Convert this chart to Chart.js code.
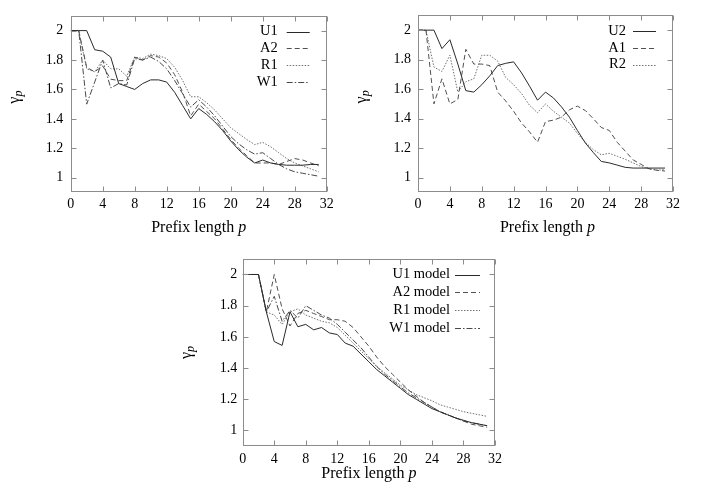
<!DOCTYPE html>
<html>
<head>
<meta charset="utf-8">
<script src="https://cdn.jsdelivr.net/npm/chart.js@4.4.1/dist/chart.umd.min.js"></script>
<style>
  html, body { margin: 0; padding: 0; background: #fff; }
  body { width: 702px; height: 491px; position: relative; overflow: hidden; }
  .box { position: absolute; }
</style>
</head>
<body>
<div class="box" id="b1" style="left:0px;top:0px;width:345px;height:245px"><canvas id="c1"></canvas></div>
<div class="box" id="b2" style="left:345px;top:0px;width:357px;height:245px"><canvas id="c2"></canvas></div>
<div class="box" id="b3" style="left:160px;top:245px;width:380px;height:246px"><canvas id="c3"></canvas></div>
<script>
// ---------------- data ----------------
const prefixLengths = [0,1,2,3,4,5,6,7,8,9,10,11,12,13,14,15,16,17,18,19,20,21,22,23,24,25,26,27,28,29,30,31];
const xTicks = [0,4,8,12,16,20,24,28,32];
const yTicks = [1,1.2,1.4,1.6,1.8,2];

// panel 1
const panel1Labels = ['U1','A2','R1','W1'];
const u1 = [2,2,2,1.87,1.86,1.82,1.64,1.62,1.60,1.64,1.665,1.665,1.65,1.58,1.49,1.40,1.47,1.43,1.38,1.32,1.25,1.19,1.14,1.10,1.12,1.10,1.09,1.085,1.085,1.085,1.09,1.09];
const a2 = [2,2,1.75,1.72,1.76,1.67,1.66,1.66,1.82,1.80,1.83,1.82,1.78,1.70,1.58,1.42,1.50,1.45,1.40,1.33,1.26,1.20,1.15,1.10,1.10,1.10,1.09,1.11,1.13,1.12,1.10,1.08];
const r1 = [2,2,1.74,1.72,1.80,1.74,1.74,1.69,1.82,1.81,1.84,1.83,1.81,1.75,1.66,1.55,1.55,1.51,1.46,1.40,1.34,1.30,1.26,1.225,1.24,1.21,1.17,1.13,1.10,1.08,1.06,1.04];
const w1 = [2,2,1.50,1.65,1.80,1.61,1.64,1.63,1.81,1.80,1.82,1.79,1.74,1.66,1.57,1.48,1.53,1.48,1.42,1.35,1.28,1.23,1.19,1.16,1.17,1.13,1.09,1.06,1.04,1.03,1.02,1.01];

// panel 2
const panel2Labels = ['U2','A1','R2'];
const u2 = [2,2,2,1.875,1.935,1.77,1.59,1.58,1.63,1.69,1.76,1.775,1.785,1.71,1.62,1.525,1.58,1.54,1.48,1.41,1.32,1.235,1.17,1.11,1.10,1.085,1.07,1.065,1.065,1.065,1.065,1.065];
const a1 = [2,2,1.50,1.67,1.50,1.53,1.87,1.77,1.77,1.76,1.58,1.52,1.45,1.37,1.31,1.24,1.38,1.39,1.41,1.46,1.485,1.455,1.40,1.34,1.32,1.24,1.18,1.12,1.09,1.06,1.05,1.045];
const r2 = [2,2,1.75,1.72,1.83,1.58,1.65,1.67,1.83,1.83,1.79,1.68,1.63,1.57,1.49,1.44,1.50,1.45,1.41,1.37,1.30,1.24,1.19,1.155,1.165,1.145,1.125,1.10,1.075,1.06,1.05,1.055];

// panel 3
const panel3Labels = ['U1 model','A2 model','R1 model','W1 model'];
const u1Model = [2,2,2,1.76,1.57,1.545,1.76,1.665,1.68,1.645,1.66,1.625,1.615,1.56,1.54,1.49,1.44,1.39,1.35,1.31,1.27,1.23,1.20,1.17,1.14,1.12,1.10,1.08,1.065,1.05,1.04,1.03];
const a2Model = [2,2,2,1.76,2.0,1.78,1.67,1.75,1.77,1.75,1.73,1.71,1.71,1.70,1.66,1.60,1.54,1.47,1.41,1.36,1.31,1.26,1.22,1.18,1.15,1.12,1.10,1.08,1.06,1.04,1.03,1.02];
const r1Model = [2,2,2,1.76,1.74,1.68,1.76,1.78,1.74,1.72,1.70,1.69,1.66,1.61,1.56,1.51,1.46,1.41,1.37,1.33,1.29,1.26,1.23,1.21,1.19,1.165,1.15,1.135,1.12,1.11,1.10,1.09];
const w1Model = [2,2,2,1.76,1.86,1.70,1.77,1.72,1.80,1.77,1.74,1.72,1.68,1.63,1.58,1.53,1.47,1.41,1.36,1.32,1.28,1.24,1.21,1.18,1.15,1.12,1.10,1.08,1.06,1.05,1.04,1.03];

// ---------------- styles ----------------
const lineStyles = [
  { color: '#2a2a2a', dash: [] },            // solid
  { color: '#505050', dash: [5, 3] },        // dashed
  { color: '#707070', dash: [1.5, 1.5] },    // dotted
  { color: '#484848', dash: [6, 2, 1.5, 2] } // dash-dot
];
const SERIF = '"Liberation Serif", "Times New Roman", serif';
const TICK_SIZE = 14;

function makeDatasets(labels, series) {
  return series.map((vals, i) => ({
    label: labels[i],
    data: prefixLengths.map((p, k) => ({ x: p, y: vals[k] })),
    borderColor: lineStyles[i].color,
    borderDash: lineStyles[i].dash,
    borderWidth: 1,
    pointRadius: 0,
    tension: 0,
    fill: false
  }));
}

const decoPlugin = {
  id: 'deco',
  afterDraw(chart, args, o) {
    const { ctx, chartArea: a } = chart;
    const xs = chart.scales.x, ys = chart.scales.y;
    ctx.save();
    // frame
    ctx.strokeStyle = '#8c8c8c';
    ctx.lineWidth = 1;
    ctx.setLineDash([]);
    const L = Math.round(a.left) + 0.5, R = Math.round(a.right) - 0.5;
    const T = Math.round(a.top) + 0.5, B = Math.round(a.bottom) - 0.5;
    ctx.strokeRect(L, T, R - L, B - T);
    // inward ticks on all sides
    ctx.beginPath();
    xTicks.forEach(v => {
      const px = Math.round(xs.getPixelForValue(v)) + 0.5;
      ctx.moveTo(px, B); ctx.lineTo(px, B - 5);
      ctx.moveTo(px, T); ctx.lineTo(px, T + 5);
    });
    yTicks.forEach(v => {
      const py = Math.round(ys.getPixelForValue(v)) + 0.5;
      ctx.moveTo(L, py); ctx.lineTo(L + 5, py);
      ctx.moveTo(R, py); ctx.lineTo(R - 5, py);
    });
    ctx.stroke();

    // legend (text right-aligned, sample on the right)
    ctx.font = '14.5px ' + SERIF;
    ctx.fillStyle = '#000';
    ctx.textAlign = 'right';
    ctx.textBaseline = 'middle';
    chart.data.datasets.forEach((ds, i) => {
      const yy = a.top + o.legTop + i * o.legRow;
      ctx.fillText(ds.label, a.right - o.legText, yy);
      ctx.beginPath();
      ctx.strokeStyle = ds.borderColor;
      ctx.setLineDash(ds.borderDash);
      ctx.moveTo(a.right - o.legS1, Math.round(yy) + 0.5);
      ctx.lineTo(a.right - o.legS2, Math.round(yy) + 0.5);
      ctx.stroke();
    });
    ctx.setLineDash([]);

    // x title: "Prefix length p" with italic p
    const fs = 16;
    ctx.textBaseline = 'middle';
    ctx.textAlign = 'left';
    ctx.font = fs + 'px ' + SERIF;
    const part1 = 'Prefix length ';
    const w1t = ctx.measureText(part1).width;
    ctx.font = 'italic ' + fs + 'px ' + SERIF;
    const w2t = ctx.measureText('p').width;
    const cx = (a.left + a.right) / 2 + o.xtDx;
    const ty = a.bottom + o.xtDy;
    let sx = cx - (w1t + w2t) / 2;
    ctx.font = fs + 'px ' + SERIF;
    ctx.fillText(part1, sx, ty);
    ctx.font = 'italic ' + fs + 'px ' + SERIF;
    ctx.fillText('p', sx + w1t, ty);

    // y title: gamma with subscript p, rotated
    ctx.save();
    ctx.translate(a.left - o.ytDx, (a.top + a.bottom) / 2 + o.ytDy);
    ctx.rotate(-Math.PI / 2);
    ctx.font = fs + 'px ' + SERIF;
    const gw = ctx.measureText('γ').width;
    ctx.font = 'italic 12px ' + SERIF;
    const pw = ctx.measureText('p').width;
    const start = -(gw + pw) / 2;
    ctx.font = fs + 'px ' + SERIF;
    ctx.fillText('γ', start, 0);
    ctx.font = 'italic 12px ' + SERIF;
    ctx.fillText('p', start + gw, 4);
    ctx.restore();

    ctx.restore();
  }
};

function makeChart(id, labels, series, g) {
  const el = document.getElementById(id);
  return new Chart(el, {
    type: 'line',
    data: { datasets: makeDatasets(labels, series) },
    plugins: [decoPlugin],
    options: {
      responsive: true,
      maintainAspectRatio: false,
      animation: false,
      devicePixelRatio: 1,
      layout: { padding: { left: 0, top: g.top, right: g.right, bottom: 0 } },
      plugins: {
        legend: { display: false },
        tooltip: { enabled: false },
        deco: g.deco
      },
      scales: {
        x: {
          type: 'linear', min: 0, max: 32,
          afterBuildTicks: s => { s.ticks = xTicks.map(v => ({ value: v })); },
          afterFit: s => { s.height = g.xH; },
          grid: { display: false, drawTicks: false },
          border: { display: false },
          ticks: { font: { family: SERIF, size: TICK_SIZE }, color: '#000', padding: g.xPad, maxRotation: 0, autoSkip: false,
                   callback: v => String(v) }
        },
        y: {
          type: 'linear', min: 0.9, max: 2.1,
          afterBuildTicks: s => { s.ticks = yTicks.map(v => ({ value: v })); },
          afterFit: s => { s.width = g.yW; },
          grid: { display: false, drawTicks: false },
          border: { display: false },
          ticks: { font: { family: SERIF, size: TICK_SIZE }, color: '#000', padding: g.yPad, autoSkip: false,
                   callback: v => String(v) }
        }
      }
    }
  });
}

makeChart('c1', panel1Labels, [u1, a2, r1, w1], {
  top: 4.3, right: 18.3, xH: 245 - 192.4, yW: 70.7, xPad: 4, yPad: 7.5,
  deco: { legTop: 15.7, legRow: 16.7, legText: 49, legS1: 40, legS2: 17, xtDx: 0, xtDy: 35, ytDx: 56, ytDy: -7 }
});
makeChart('c2', panel2Labels, [u2, a1, r2], {
  top: 4.3, right: 29, xH: 245 - 192.4, yW: 73, xPad: 4, yPad: 7,
  deco: { legTop: 15.7, legRow: 16.7, legText: 47, legS1: 40, legS2: 17, xtDx: 2, xtDy: 35, ytDx: 56, ytDy: -7 }
});
makeChart('c3', panel3Labels, [u1Model, a2Model, r1Model, w1Model], {
  top: 13.7, right: 45, xH: 246 - 201, yW: 82.7, xPad: 5, yPad: 5.5,
  deco: { legTop: 15.6, legRow: 17.8, legText: 45, legS1: 40, legS2: 15, xtDx: 0, xtDy: 28, ytDx: 56, ytDy: 0 }
});
</script>
</body>
</html>
